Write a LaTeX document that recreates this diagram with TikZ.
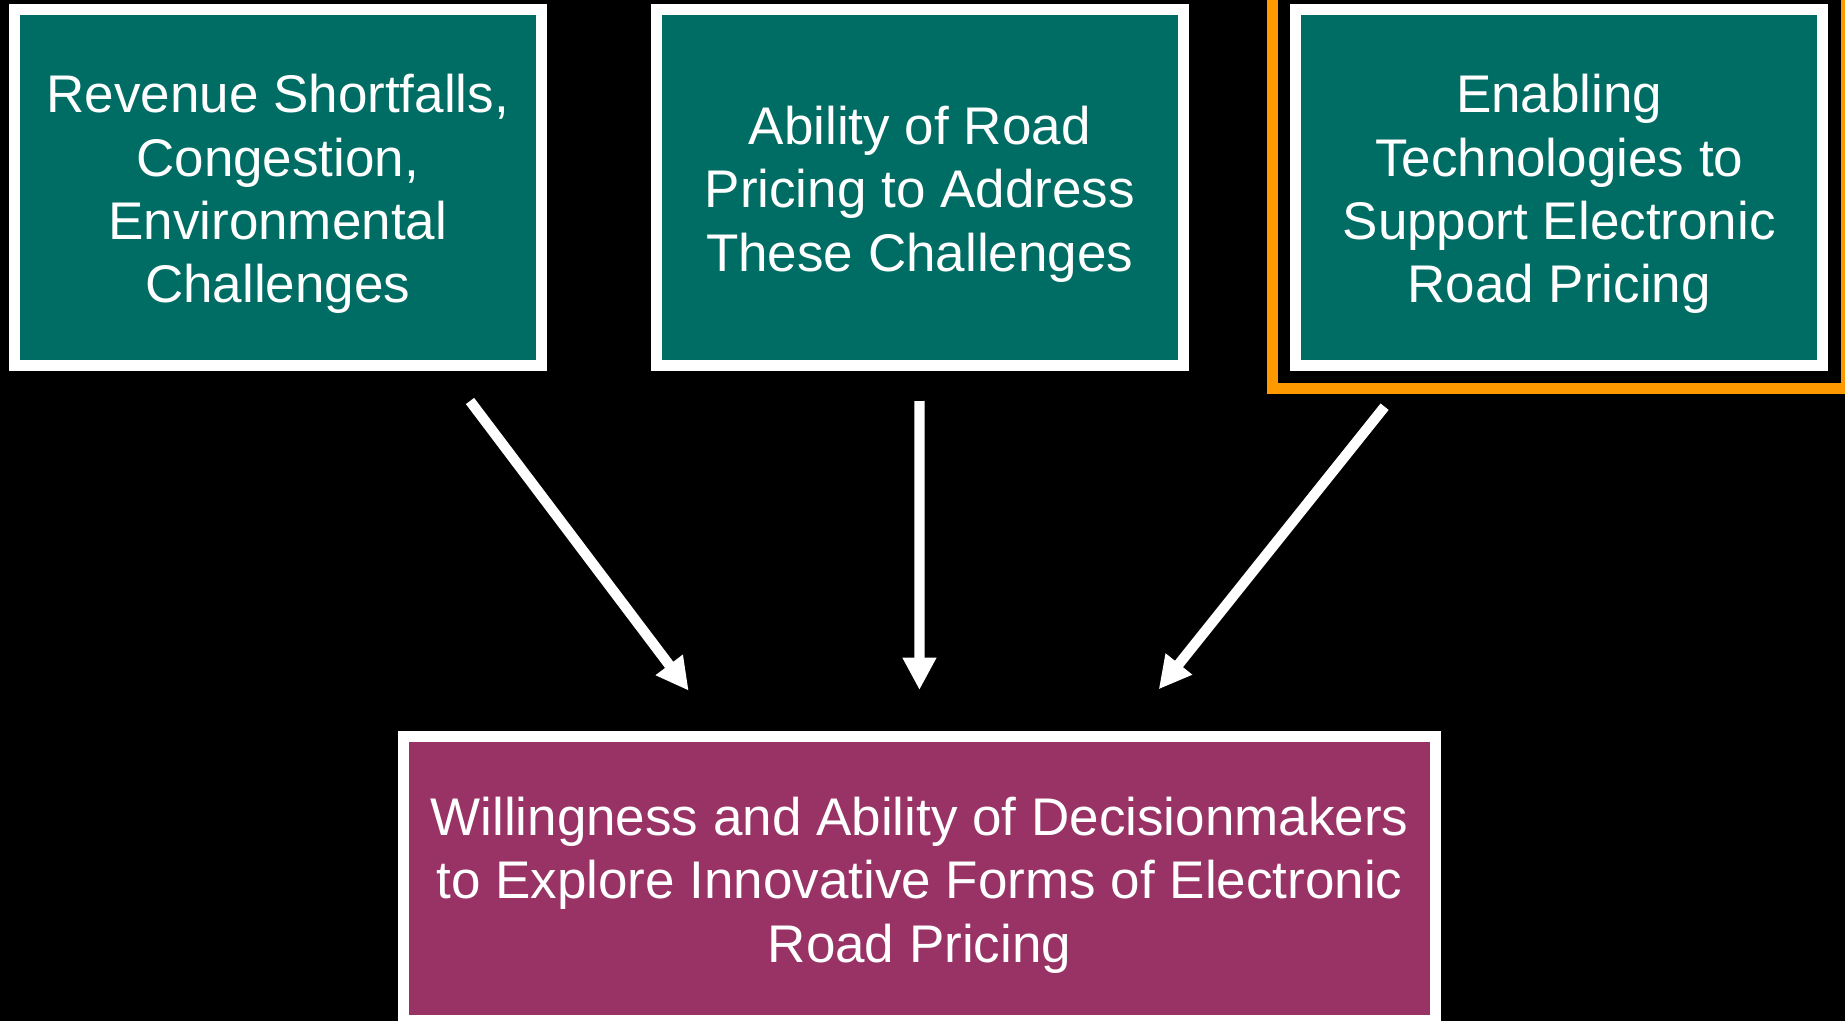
\documentclass[tikz,border=0pt]{standalone}
\usepackage{fontspec}
\setmainfont{Liberation Sans}
\usetikzlibrary{arrows.meta,calc,fit}
\definecolor{boxteal}{RGB}{0,109,100}
\definecolor{boxplum}{RGB}{153,51,102}
\definecolor{frameorange}{RGB}{255,153,0}
% invisible rule that gives the first line a full ascent
\newcommand\cardstrut{\rule{0pt}{25.8pt}}
\begin{document}
\begin{tikzpicture}[x=0.5pt,y=-0.5pt,
  card/.style={draw=white, line width=5.5pt, text=white, align=center,
    inner sep=0pt, outer sep=0pt,
    font=\fontsize{26.5}{31.67}\selectfont},
  topcard/.style={card, fill=boxteal, minimum width=263.5pt, minimum height=177.7pt},
  goalcard/.style={card, fill=boxplum, minimum width=516.45pt, minimum height=142pt},
  highlight/.style={draw=frameorange, line width=5.25pt, inner sep=11.6pt, outer sep=0pt},
  flow/.style={draw=white, line width=5.15pt,
    -{Triangle[width=15.9pt,length=16.2pt]}}
]
% canvas
\fill[black] (0,0) rectangle (1845,1021);
\useasboundingbox (0,0) rectangle (1845,1021);
\clip (0,0) rectangle (1845,1021);

% upper row of factors
\node[topcard] (b1) at (277.7,187.5) {\cardstrut Revenue Shortfalls,\\Congestion,\\Environmental\\Challenges};
\node[topcard] (b2) at (919.7,187.5) {\cardstrut Ability of Road\\Pricing to Address\\These Challenges};
\node[topcard] (b3) at (1559.2,187.5) {\cardstrut Enabling\\Technologies to\\Support Electronic\\Road Pricing};
\node[highlight, fit=(b3)] (hl) {};

% outcome
\node[goalcard] (bot) at (919.45,878.5) {\cardstrut Willingness and Ability of Decisionmakers\\to Explore Innovative Forms of Electronic\\Road Pricing};

% connectors
\draw[flow] ($(b1.south)+(192.3,35.8)$) -- ($(bot.north)+(-230.75,-45.8)$);
\draw[flow] ($(b2.south)+(-0.3,35.8)$) -- ($(bot.north)+(0,-46.5)$);
\draw[flow] ($(b3.south)+(-174.6,41.5)$) -- ($(bot.north)+(239.25,-47.2)$);
\end{tikzpicture}
\end{document}
